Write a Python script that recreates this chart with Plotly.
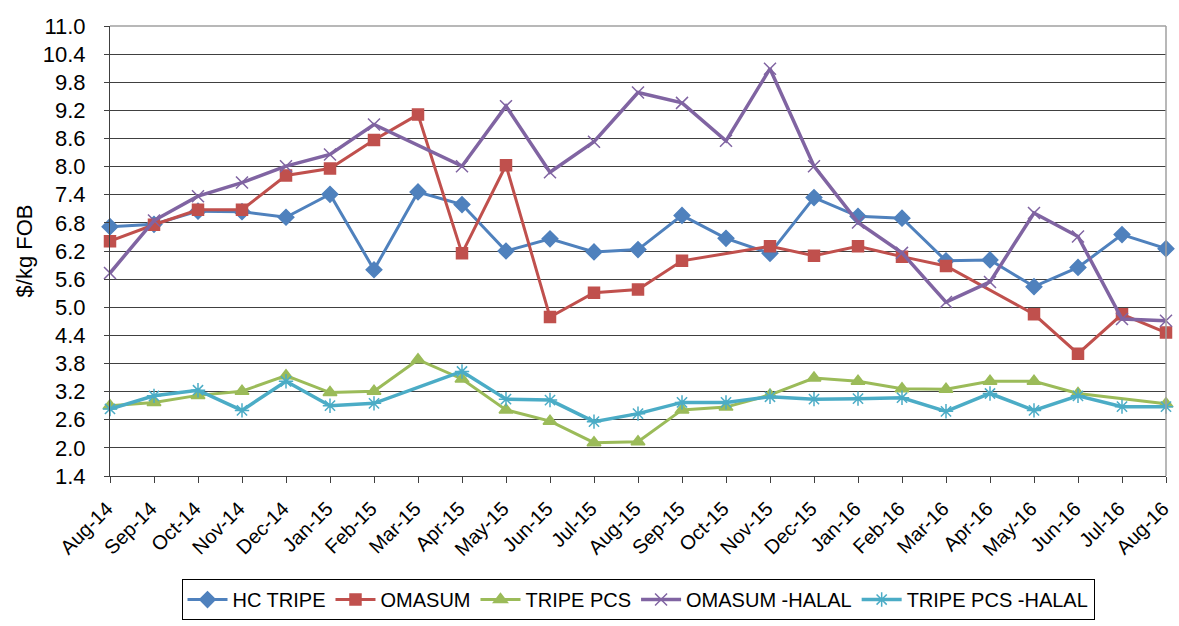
import plotly.graph_objects as go

months = ["Aug-14","Sep-14","Oct-14","Nov-14","Dec-14","Jan-15","Feb-15","Mar-15","Apr-15",
          "May-15","Jun-15","Jul-15","Aug-15","Sep-15","Oct-15","Nov-15","Dec-15","Jan-16",
          "Feb-16","Mar-16","Apr-16","May-16","Jun-16","Jul-16","Aug-16"]

hc_tripe = [6.72,6.77,7.05,7.04,6.92,7.41,5.80,7.46,7.19,6.20,6.46,6.18,6.23,6.96,6.47,6.15,
            7.34,6.94,6.90,5.99,6.01,5.44,5.85,6.55,6.25]
omasum = [6.41,6.76,7.08,7.08,7.81,7.96,8.57,9.11,6.15,8.03,4.79,5.31,5.38,5.99,None,6.30,
          6.10,6.30,6.08,5.88,None,4.85,4.01,4.85,4.46]
tripe_pcs = [2.90,2.97,3.12,3.21,3.54,3.18,3.21,3.88,3.47,2.81,2.57,2.11,2.13,2.81,2.87,3.13,
             3.49,3.42,3.26,3.25,3.42,3.42,3.16,None,2.94]
omasum_halal = [5.73,6.85,7.37,7.66,8.01,8.26,8.90,None,8.01,9.29,7.88,8.53,9.58,9.36,8.55,10.09,
                8.01,6.81,6.16,5.11,5.54,7.01,6.51,4.75,4.71]
tripe_pcs_halal = [2.83,3.11,3.23,2.80,3.42,2.90,2.95,None,3.63,3.04,3.02,2.56,2.73,2.97,2.97,3.09,
                   3.04,3.05,3.07,2.78,3.16,2.80,3.11,2.88,2.88]

y_ticks = [1.4,2.0,2.6,3.2,3.8,4.4,5.0,5.6,6.2,6.8,7.4,8.0,8.6,9.2,9.8,10.4,11.0]

series = [
    ("HC TRIPE", hc_tripe, "#4F81BD", "diamond", 12, 3),
    ("OMASUM", omasum, "#C0504D", "square", 11, 3),
    ("TRIPE PCS", tripe_pcs, "#9BBB59", "triangle-up", 12, 3),
    ("OMASUM -HALAL", omasum_halal, "#8064A2", "x-thin-open", 12, 3.5),
    ("TRIPE PCS -HALAL", tripe_pcs_halal, "#4BACC6", "asterisk-open", 12, 3.5),
]

font = "Liberation Sans, Arial"

fig = go.Figure()
for name, vals, color, sym, size, lw in series:
    fig.add_trace(go.Scatter(
        x=months, y=vals, name=name, mode="lines+markers",
        connectgaps=True, cliponaxis=False,
        line=dict(color=color, width=lw),
        marker=dict(symbol=sym, size=size, color=color,
                    line=dict(color=color, width=1.5)),
    ))

fig.update_layout(
    width=1179, height=626,
    margin=dict(l=110, r=6, t=26, b=137),
    paper_bgcolor="white", plot_bgcolor="white",
    font=dict(family=font, color="black"),
    showlegend=True,
    legend=dict(orientation="h", x=0.5, xanchor="center", y=-0.229, yanchor="top",
                bordercolor="black", borderwidth=1, font=dict(size=20, family=font),
                tracegroupgap=0, itemwidth=40),
)
fig.update_xaxes(
    type="category", range=[0, 24], tickangle=-45,
    tickfont=dict(size=20, family=font),
    showgrid=False, showline=True, linecolor="#404040", linewidth=1,
    ticks="outside", ticklen=6, tickcolor="#404040", mirror=False,
    ticklabelstandoff=6, ticklabelshift=-3,
)
fig.update_yaxes(
    range=[1.4, 11.0], tickvals=y_ticks, ticktext=[f"{v:.1f}" for v in y_ticks],
    tickfont=dict(size=22, family=font),
    title=dict(text="$/kg FOB", font=dict(size=22, family=font), standoff=4),
    showgrid=True, gridcolor="#404040", gridwidth=1,
    showline=True, linecolor="#404040", linewidth=1,
    ticks="outside", ticklen=5, tickcolor="#404040",
    zeroline=False, ticklabelstandoff=14,
)
fig.add_shape(type="line", xref="paper", yref="paper", x0=1, x1=1, y0=0, y1=1,
              line=dict(color="#A0A0A0", width=1.5))
fig.add_shape(type="line", xref="paper", yref="paper", x0=0, x1=1, y0=1, y1=1,
              line=dict(color="#A0A0A0", width=1.5))

fig.write_html("out.html", config={"displayModeBar": False},
               post_script="document.body.style.margin='0';document.body.style.overflow='hidden';")
